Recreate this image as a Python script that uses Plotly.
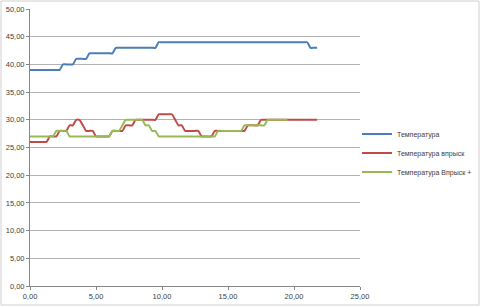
import plotly.graph_objects as go

# time axis (step 0.25)
x_time = [i * 0.25 for i in range(88)]

temp = ([39] * 10 + [40] * 4 + [41] * 4 + [42] * 8 + [43] * 13 + [44] * 46 + [43] * 3)

temp_inj = ([26] * 6 + [27] * 3 + [28] * 3 + [29] * 2 + [30] * 2 + [29] * 1 + [28] * 3 +
            [27] * 5 + [28] * 4 + [29] * 3 + [30] * 7 + [31] * 5 + [30] * 1 + [29] * 2 +
            [28] * 5 + [27] * 4 + [28] * 10 + [29] * 4 + [30] * 18)

temp_inj_plus = ([27] * 8 + [28] * 4 + [27] * 13 + [28] * 3 + [29] * 1 + [30] * 6 +
                 [29] * 2 + [28] * 2 + [27] * 18 + [28] * 8 + [29] * 7 + [30] * 7)

series_names = ["Температура", "Температура впрыск", "Температура Впрыск +"]
series_colors = ["#4A7EBB", "#BE4B48", "#98B954"]
y_ticks = [0, 5, 10, 15, 20, 25, 30, 35, 40, 45, 50]
x_ticks = [0, 5, 10, 15, 20, 25]

fig = go.Figure()
for name, color, ys in zip(series_names, series_colors, [temp, temp_inj, temp_inj_plus]):
    fig.add_trace(go.Scatter(
        x=x_time[:len(ys)], y=ys, mode="lines", name=name,
        line=dict(color=color, width=2, shape="spline", smoothing=0.5),
    ))

fig.update_layout(
    width=480, height=307,
    margin=dict(l=30, r=120, t=9, b=21, autoexpand=False),
    paper_bgcolor="white", plot_bgcolor="white",
    separators=", ",
    font=dict(family="Liberation Sans, Arial, sans-serif", size=7.5, color="#404040"),
    showlegend=True,
    legend=dict(xref="container", yref="container", x=357 / 480, xanchor="left",
                y=1 - 153 / 307, yanchor="middle",
                font=dict(size=7, color="#404040"), itemwidth=30,
                bgcolor="rgba(0,0,0,0)"),
    xaxis=dict(range=[0, 25], tickvals=x_ticks, tickformat=".2f",
               showgrid=False, zeroline=False,
               showline=True, linecolor="#868686", linewidth=1,
               ticks="outside", ticklen=3, tickcolor="#868686"),
    yaxis=dict(range=[0, 50], tickvals=y_ticks, tickformat=".2f",
               showgrid=True, gridcolor="#B3B3B3", gridwidth=1, zeroline=False,
               showline=True, linecolor="#868686", linewidth=1,
               ticks="outside", ticklen=3, tickcolor="#868686"),
    shapes=[dict(type="rect", xref="paper", yref="paper",
                 x0=-29 / 330, x1=449 / 330, y0=-19 / 277, y1=1 + 8 / 277,
                 line=dict(color="#D0D0D0", width=1), layer="below")],
)

fig.write_html("out.html")
